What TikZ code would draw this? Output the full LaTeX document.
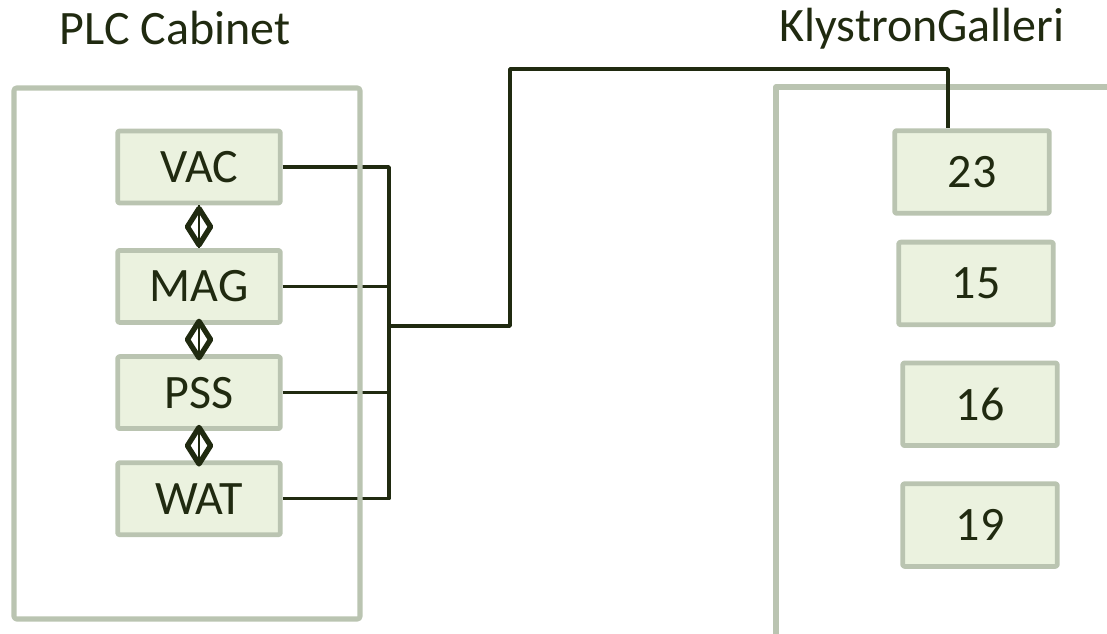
\documentclass[tikz,border=0pt]{standalone}
\usepackage{fontspec}
\setmainfont{Carlito}
\usetikzlibrary{positioning,shapes.geometric}

\definecolor{boxfill}{HTML}{EBF2DF}
\definecolor{boxline}{HTML}{BAC4B1}
\definecolor{ink}{HTML}{202A10}

\begin{document}
\begin{tikzpicture}[%
    x=0.75pt, y=-0.75pt,   % one unit per pixel, y grows downward
    node distance=22pt,    % gap between stacked units
    line join=round,
    ]
% -------------------------------------------------
% Box and line styles
\tikzset{
  unit/.style={draw=boxline, fill=boxfill, line width=3.6pt, text=ink,
    rounded corners=1.5pt, font=\fontsize{36}{42}\selectfont},
  plc/.style={unit, minimum width=122pt, minimum height=54pt},
  kly/.style={unit, minimum width=116pt, minimum height=62pt},
  joint/.style={diamond, draw=ink, line width=4pt, inner sep=0pt,
    minimum width=19pt, minimum height=29pt},
  link/.style={draw=ink, line width=1.2pt},
  wire/.style={draw=ink, line width=2.6pt},
  wall/.style={draw=boxline, line width=3.8pt},
  title/.style={anchor=base, text=ink, font=\fontsize{36}{42}\selectfont}
}
\useasboundingbox (0,0) rectangle (1107,634);

% Headings
\node[title] (plctitle) at (175,45) {PLC Cabinet};
\node[title] (klytitle) at (922,42) {KlystronGalleri};

% Klystron gallery wall, open to the bottom and right
\draw[wall] (776,640) -- (776,87) -- (1115,87);

% -------------------------------------------------
% PLC units
\node[plc] (vac) at (199,167) {VAC};
\node[plc, below=of vac, yshift=-10pt] (mag) {MAG};
\node[plc, below=of mag] (pss) {PSS};
\node[plc, below=of pss] (wat) {WAT};

% Klystron stations
\node[kly] (k23) at (972,172) {23};
\node[kly, below=18pt of k23, xshift=3pt] (k15) {15};
\node[kly, below=25pt of k15, xshift=3pt] (k16) {16};
\node[kly, below=25pt of k16] (k19) {19};

% Couplings between the units
\foreach \a/\b in {vac/mag, mag/pss, pss/wat}
  \draw[link] (\a.south) -- node[joint] {} (\b.north);

% Bus and the cable out to the gallery
\coordinate (bus) at (389,326);
\coordinate (riser) at (510,69);
\draw[wire] (vac.east) -| (wat.east -| bus) -- (wat.east);
\draw[wire] (mag.east) -- (mag.east -| bus);
\draw[wire] (pss.east) -- (pss.east -| bus);
\draw[wire] (bus) -| (riser) -| ([xshift=-18pt]k23.north);

% Cabinet outline on top of the wires
\draw[wall, rounded corners=2pt] (14,88) rectangle (360,619);
% -------------------------------------------------
\end{tikzpicture}
\end{document}
